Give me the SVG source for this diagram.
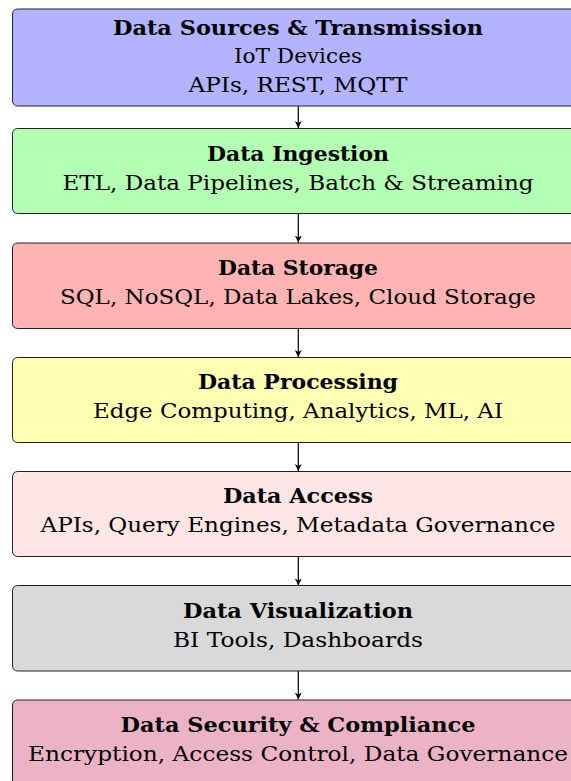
<svg xmlns="http://www.w3.org/2000/svg" width="571" height="781" viewBox="0 0 571 781">
<style>
.box{stroke:#222;stroke-width:1}
.t{font-family:"DejaVu Serif","Liberation Serif",serif;font-size:20px;font-weight:bold;text-anchor:middle;fill:#000}
.s{font-family:"DejaVu Serif","Liberation Serif",serif;font-size:20.5px;text-anchor:middle;fill:#000}
.c{stroke:#000;stroke-width:1.2;fill:none}
</style>
<defs>
<marker id="ah" markerWidth="8" markerHeight="8" refX="7" refY="4" orient="auto" markerUnits="userSpaceOnUse">
<path d="M0,0.5 L7,4 L0,7.5 L2,4 Z" fill="#000"/>
</marker>
</defs>
<rect width="571" height="781" fill="#fff"/>
<g id="connectors">
<line class="c" x1="298.3" y1="106" x2="298.3" y2="128" marker-end="url(#ah)"/>
<line class="c" x1="298.3" y1="214" x2="298.3" y2="242.5" marker-end="url(#ah)"/>
<line class="c" x1="298.3" y1="328.5" x2="298.3" y2="357" marker-end="url(#ah)"/>
<line class="c" x1="298.3" y1="443" x2="298.3" y2="471" marker-end="url(#ah)"/>
<line class="c" x1="298.3" y1="557" x2="298.3" y2="585.5" marker-end="url(#ah)"/>
<line class="c" x1="298.3" y1="671" x2="298.3" y2="699.5" marker-end="url(#ah)"/>
</g>
<g id="sources">
<rect class="box" x="12.5" y="9" width="572" height="97" rx="5" fill="#b3b3ff"/>
<text class="t" x="298" y="35" textLength="370" lengthAdjust="spacingAndGlyphs">Data Sources &amp; Transmission</text>
<text class="s" x="298" y="63" textLength="128" lengthAdjust="spacingAndGlyphs">IoT Devices</text>
<text class="s" x="298" y="92" textLength="219" lengthAdjust="spacingAndGlyphs">APIs, REST, MQTT</text>
</g>
<g id="ingestion">
<rect class="box" x="12.5" y="128.5" width="572" height="85" rx="5" fill="#b3ffb3"/>
<text class="t" x="298" y="161" textLength="182" lengthAdjust="spacingAndGlyphs">Data Ingestion</text>
<text class="s" x="298" y="190" textLength="471" lengthAdjust="spacingAndGlyphs">ETL, Data Pipelines, Batch &amp; Streaming</text>
</g>
<g id="storage">
<rect class="box" x="12.5" y="243" width="572" height="85.5" rx="5" fill="#ffb3b3"/>
<text class="t" x="298" y="275" textLength="160" lengthAdjust="spacingAndGlyphs">Data Storage</text>
<text class="s" x="298" y="304" textLength="476" lengthAdjust="spacingAndGlyphs">SQL, NoSQL, Data Lakes, Cloud Storage</text>
</g>
<g id="processing">
<rect class="box" x="12.5" y="357.5" width="572" height="85" rx="5" fill="#ffffb3"/>
<text class="t" x="298" y="389" textLength="200" lengthAdjust="spacingAndGlyphs">Data Processing</text>
<text class="s" x="298" y="418" textLength="410" lengthAdjust="spacingAndGlyphs">Edge Computing, Analytics, ML, AI</text>
</g>
<g id="access">
<rect class="box" x="12.5" y="471.5" width="572" height="85" rx="5" fill="#ffe6e6"/>
<text class="t" x="298" y="503" textLength="150" lengthAdjust="spacingAndGlyphs">Data Access</text>
<text class="s" x="298" y="532" textLength="515" lengthAdjust="spacingAndGlyphs">APIs, Query Engines, Metadata Governance</text>
</g>
<g id="visualization">
<rect class="box" x="12.5" y="585.5" width="572" height="85.5" rx="5" fill="#d9d9d9"/>
<text class="t" x="298" y="618" textLength="230" lengthAdjust="spacingAndGlyphs">Data Visualization</text>
<text class="s" x="298" y="647" textLength="250" lengthAdjust="spacingAndGlyphs">BI Tools, Dashboards</text>
</g>
<g id="security">
<rect class="box" x="12.5" y="700" width="572" height="85" rx="5" fill="#ecb3c6"/>
<text class="t" x="298" y="732" textLength="355" lengthAdjust="spacingAndGlyphs">Data Security &amp; Compliance</text>
<text class="s" x="298" y="761" textLength="540" lengthAdjust="spacingAndGlyphs">Encryption, Access Control, Data Governance</text>
</g>
</svg>
